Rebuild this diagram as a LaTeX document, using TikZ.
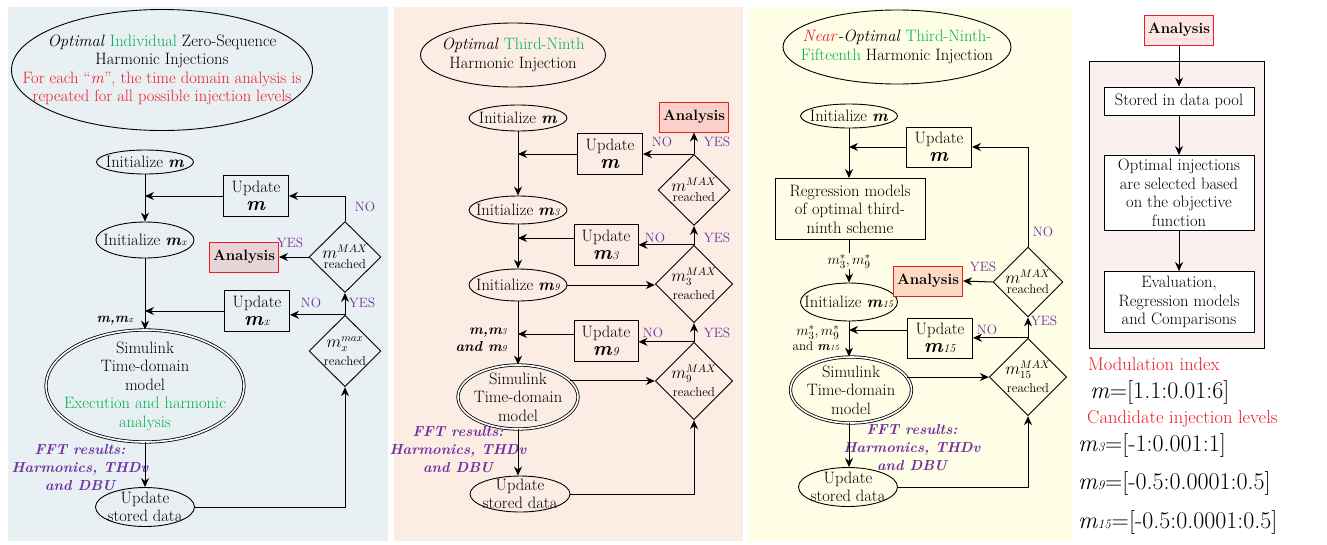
\documentclass[tikz,border=0pt]{standalone}
\usepackage{tikz}
\usetikzlibrary{shapes.geometric, arrows, arrows.meta, positioning, calc}

\definecolor{bgone}{RGB}{233,240,243}
\definecolor{bgtwo}{RGB}{251,237,228}
\definecolor{bgthree}{RGB}{254,253,230}
\definecolor{bgfour}{RGB}{251,240,240}
\definecolor{anaone}{RGB}{232,211,214}
\definecolor{anatwo}{RGB}{250,208,200}
\definecolor{anathree}{RGB}{252,218,196}
\definecolor{anafour}{RGB}{253,229,227}
\definecolor{cgreen}{RGB}{0,176,80}
\definecolor{cpurple}{RGB}{112,48,160}
\definecolor{cred}{RGB}{237,28,36}

\newcommand{\bmm}{\textbf{\textit{m}}}
\newcommand{\bmsub}[2]{\textbf{\textit{m}}{\fontsize{#2}{#2}\selectfont\textit{#1}}}
\newcommand{\itmsub}[2]{\textit{m}{\fontsize{#2}{#2}\selectfont\textit{#1}}}

\begin{document}
\begin{tikzpicture}[
    x=1pt, y=-1pt,
    font=\fontsize{16.5}{18.5}\selectfont,
    oval/.style={ellipse, draw=black, line width=0.9pt, inner xsep=-20pt, inner ysep=-10pt, align=center},
    titleoval/.style={oval, inner xsep=-50pt},
    model/.style={oval, double, double distance=1.6pt, line width=0.8pt},
    box/.style={rectangle, draw=black, line width=0.9pt, align=center, inner sep=1pt},
    upd/.style={box, minimum width=65pt, minimum height=41pt},
    decision/.style={diamond, draw=black, line width=0.9pt, inner sep=0pt, minimum width=72pt, minimum height=71pt, align=center, font=\fontsize{13}{13}\selectfont},
    analysis/.style={rectangle, draw=cred, line width=1pt, minimum width=69pt, minimum height=30pt, font=\fontsize{15}{16}\selectfont\bfseries},
    arrow/.style={line width=1pt, -{Stealth[length=9pt,width=8pt]}},
    answer/.style={text=cpurple, font=\fontsize{13.5}{13.5}\selectfont, inner sep=0pt},
    fft/.style={text=cpurple, align=center, font=\fontsize{14.5}{18}\selectfont\bfseries\itshape},
    rangetext/.style={anchor=west, inner sep=0pt, font=\fontsize{24}{26}\selectfont}
]
\useasboundingbox (0,0) rectangle (1327,544);

% Panels
\fill[bgone] (8,7) rectangle (388,541);
\fill[bgtwo] (394,7) rectangle (743,541);
\fill[bgthree] (749,7) rectangle (1072,541);

% Panel 1: optimal individual injections
\node[titleoval, minimum width=301pt, minimum height=121pt] (title1) at (162,70) {\textit{Optimal} \textcolor{cgreen}{Individual} Zero-Sequence\\Harmonic Injections\\\textcolor{cred}{For each \textquotedblleft\textit{m}\textquotedblright, the time domain analysis is}\\\textcolor{cred}{repeated for all possible injection levels}};
\node[oval, minimum width=97pt, minimum height=24pt] (init1) at (145,162) {Initialize \bmm};
\node[upd] (upd1m) at (256,196) {Update\\{\fontsize{20}{20}\selectfont\bmm}};
\node[oval, minimum width=98pt, minimum height=36pt] (init1x) at (145,240) {Initialize \bmsub{x}{10}};
\node[decision] (dec1m) at (345,257) {{\fontsize{16}{16}\selectfont$m^{MAX}$}\\[-3pt]reached};
\node[analysis, fill=anaone] (ana1) at (244,257) {Analysis};
\node[upd] (upd1x) at (257,311) {Update\\{\fontsize{20}{20}\selectfont\bmsub{x}{12}}};
\node[decision] (dec1x) at (345,351) {{\fontsize{16}{16}\selectfont$m_x^{max}$}\\[4pt]reached};
\node[model, minimum width=198pt, minimum height=112pt] (sim1) at (145,386) {Simulink\\Time-domain\\model\\\textcolor{cgreen}{Execution and harmonic}\\\textcolor{cgreen}{analysis}};
\node[oval, minimum width=99pt, minimum height=39pt] (sto1) at (145,507) {Update\\stored data};

\node[answer] (no1a) at (365,207) {NO};
\node[answer] (yes1a) at (290,243) {YES};
\node[answer] (no1b) at (311,303) {NO};
\node[answer] (yes1b) at (362,303) {YES};
\node[font=\fontsize{14}{14}\selectfont] (var1) at (115,321) {\textbf{\textit{m,m}}{\fontsize{9}{9}\selectfont\textit{x}}};
\node[fft] (fft1) at (80,468) {FFT results:\\Harmonics, THDv\\and DBU};

\draw[arrow] (init1) -- (init1x);
\draw[arrow] (init1x) -- (sim1);
\draw[arrow] (sim1) -- (sto1);
\draw[arrow] (upd1m.west) -- (upd1m.west -| init1.south);
\draw[arrow] (upd1x.west) -- (upd1x.west -| init1.south);
\draw[arrow] (sto1.east) -| (dec1x.south);
\draw[arrow] (dec1x.north) -- (dec1m.south);
\draw[arrow] (dec1x.north) -- (dec1x.north -| upd1x.east);
\draw[arrow] (dec1m.north) |- (upd1m.east);
\draw[arrow] (dec1m.west) -- (ana1.east);

% Panel 2: optimal third-ninth injection
\node[titleoval, minimum width=185pt, minimum height=64pt] (title2) at (513,55) {\textit{Optimal} \textcolor{cgreen}{Third-Ninth}\\Harmonic Injection};
\node[oval, minimum width=98pt, minimum height=26pt] (init2) at (518,118) {Initialize \bmm};
\node[analysis, fill=anatwo] (ana2) at (694,117) {Analysis};
\node[upd] (upd2m) at (610,154) {Update\\{\fontsize{20}{20}\selectfont\bmm}};
\node[decision] (dec2m) at (694,190) {{\fontsize{16}{16}\selectfont$m^{MAX}$}\\[-3pt]reached};
\node[oval, minimum width=98pt, minimum height=28pt] (init2a) at (518,210) {Initialize \bmsub{3}{10}};
\node[upd, minimum width=64pt] (upd2a) at (606,245) {Update\\{\fontsize{20}{20}\selectfont\bmsub{3}{12}}};
\node[decision] (dec2a) at (694,284) {{\fontsize{16}{16}\selectfont$m_3^{MAX}$}\\[4pt]reached};
\node[oval, minimum width=98pt, minimum height=32pt] (init2b) at (518,285) {Initialize \bmsub{9}{10}};
\node[upd, minimum width=64pt] (upd2b) at (606,341) {Update\\{\fontsize{20}{20}\selectfont\bmsub{9}{12}}};
\node[decision] (dec2b) at (694,381) {{\fontsize{16}{16}\selectfont$m_9^{MAX}$}\\[4pt]reached};
\node[model, minimum width=120pt, minimum height=64pt] (sim2) at (518,397) {Simulink\\Time-domain\\model};
\node[oval, minimum width=100pt, minimum height=36pt] (sto2) at (520,494) {Update\\stored data};

\node[answer] (no2a) at (662,142) {NO};
\node[answer] (yes2a) at (717,142) {YES};
\node[answer] (no2b) at (655,238) {NO};
\node[answer] (yes2b) at (717,238) {YES};
\node[answer] (no2c) at (653,333) {NO};
\node[answer] (yes2c) at (717,333) {YES};
\node[align=right, font=\fontsize{14.5}{17}\selectfont\bfseries\itshape] (var2) at (481,340) {m,m{\mdseries\fontsize{9}{9}\selectfont 3}\\and m{\mdseries\fontsize{9}{9}\selectfont 9}};
\node[fft] (fft2) at (458,450) {FFT results:\\Harmonics, THDv\\and DBU};

\draw[arrow] (init2) -- (init2a);
\draw[arrow] (init2a) -- (init2b);
\draw[arrow] (init2b) -- (sim2);
\draw[arrow] (sim2) -- (sto2.north -| sim2.south);
\draw[arrow] (upd2m.west) -- (upd2m.west -| init2.south);
\draw[arrow] ([yshift=7pt]upd2a.west) -- ([yshift=7pt]upd2a.west -| init2.south);
\draw[arrow] ([yshift=7pt]upd2b.west) -- ([yshift=7pt]upd2b.west -| init2.south);
\draw[arrow] (init2b.east) -- (init2b.east -| dec2a.west);
\draw[arrow] (sim2.17) -- (sim2.17 -| dec2b.west);
\draw[arrow] (sto2.east) -| (dec2b.south);
\draw[arrow] (dec2b.north) -- (dec2a.south);
\draw[arrow] (dec2b.north) -- (dec2b.north -| upd2b.east);
\draw[arrow] (dec2a.north) -- (dec2m.south);
\draw[arrow] (dec2a.north) -- (dec2a.north -| upd2a.east);
\draw[arrow] (dec2m.north) -- (ana2.south);
\draw[arrow] (dec2m.north) -- (dec2m.north -| upd2m.east);

% Panel 3: near-optimal third-ninth-fifteenth injection
\node[titleoval, minimum width=228pt, minimum height=74pt] (title3) at (897,47) {\textcolor{cred}{\textit{Near}}\textit{-Optimal} \textcolor{cgreen}{Third-Ninth-}\\\textcolor{cgreen}{Fifteenth} Harmonic Injection};
\node[oval, minimum width=97pt, minimum height=24pt] (init3) at (849,116) {Initialize \bmm};
\node[upd, minimum height=40pt] (upd3m) at (939,147) {Update\\{\fontsize{20}{20}\selectfont\bmm}};
\node[box, minimum width=150pt, minimum height=61pt] (reg3) at (850,209) {Regression models\\of optimal third-\\ninth scheme};
\node[oval, minimum width=97pt, minimum height=38pt] (init3x) at (849,302) {Initialize \bmsub{15}{10}};
\node[analysis, fill=anathree] (ana3) at (928,281) {Analysis};
\node[decision, minimum width=70pt, minimum height=70pt] (dec3m) at (1028,282) {{\fontsize{16}{16}\selectfont$m^{MAX}$}\\[-3pt]reached};
\node[upd, minimum height=40pt] (upd3x) at (940,338) {Update\\{\fontsize{20}{20}\selectfont\bmsub{15}{12}}};
\node[decision, minimum width=70pt, minimum height=70pt] (dec3x) at (1028,377) {{\fontsize{16}{16}\selectfont$m_{15}^{MAX}$}\\[4pt]reached};
\node[model, minimum width=121pt, minimum height=66pt] (sim3) at (851,390) {Simulink\\Time-domain\\model};
\node[oval, minimum width=99pt, minimum height=39pt] (sto3) at (848,487) {Update\\stored data};

\node[answer] (no3a) at (1043,232) {NO};
\node[answer] (yes3a) at (983,267) {YES};
\node[answer] (no3b) at (987,330) {NO};
\node[answer] (yes3b) at (1044,321) {YES};
\node[align=right, font=\fontsize{15}{15}\selectfont] (var3) at (816,338) {$m_3^*, m_9^*$\\{\fontsize{13}{13}\selectfont and \bmsub{15}{8}}};
\node[fft] (fft3) at (912,448) {FFT results:\\Harmonics, THDv\\and DBU};

\draw[arrow] (init3) -- (init3 |- reg3.north);
\draw[arrow] (init3 |- reg3.south) -- node[fill=bgthree, inner sep=1pt, font=\fontsize{15}{15}\selectfont] (var3a) {$m_3^*, m_9^*$} (init3x);
\draw[arrow] (init3x) -- (init3x |- sim3.north);
\draw[arrow] (init3x |- sim3.south) -- (sto3.north -| init3x);
\draw[arrow] (upd3m.west) -- (upd3m.west -| init3.south);
\draw[arrow] ([yshift=8pt]upd3x.west) -- ([yshift=8pt]upd3x.west -| init3.south);
\draw[arrow] (sim3.13) -- (sim3.13 -| dec3x.west);
\draw[arrow] (sto3.east) -| (dec3x.south);
\draw[arrow] (dec3x.north) -- (dec3m.south);
\draw[arrow] (dec3x.north) -- (dec3x.north -| upd3x.east);
\draw[arrow] (dec3m.north) |- (upd3m.east);
\draw[arrow] (dec3m.west) -- (ana3.east);

% Panel 4: analysis
\filldraw[fill=bgfour, draw=black, line width=0.9pt] (1089,61) rectangle (1264,348);
\node[analysis, fill=anafour] (ana4) at (1179,30) {Analysis};
\node[box, fill=white, minimum width=150pt, minimum height=28pt] (pool) at (1179,101) {Stored in data pool};
\node[box, fill=white, minimum width=150pt, minimum height=75pt] (opt) at (1179,193) {Optimal injections\\are selected based\\on the objective\\function};
\node[box, fill=white, minimum width=150pt, minimum height=61pt] (eval) at (1179,302) {Evaluation,\\Regression models\\and Comparisons};

\draw[arrow] (ana4) -- (pool);
\draw[arrow] (pool) -- (opt);
\draw[arrow] (opt) -- (eval);

\node[rangetext, text=cred, font=\fontsize{18.5}{20}\selectfont] (modlbl) at (1088,364) {Modulation index};
\node[rangetext] (mrange) at (1090,392) {\textit{m}=[1.1:0.01:6]};
\node[rangetext, text=cred, font=\fontsize{18.5}{20}\selectfont] (candlbl) at (1087,419) {Candidate injection levels};
\node[rangetext] (mthree) at (1078,445) {\itmsub{3}{13}=[-1:0.001:1]};
\node[rangetext] (mnine) at (1078,483) {\itmsub{9}{13}=[-0.5:0.0001:0.5]};
\node[rangetext] (mfifteen) at (1078,522) {\itmsub{15}{13}=[-0.5:0.0001:0.5]};

\end{tikzpicture}
\end{document}
